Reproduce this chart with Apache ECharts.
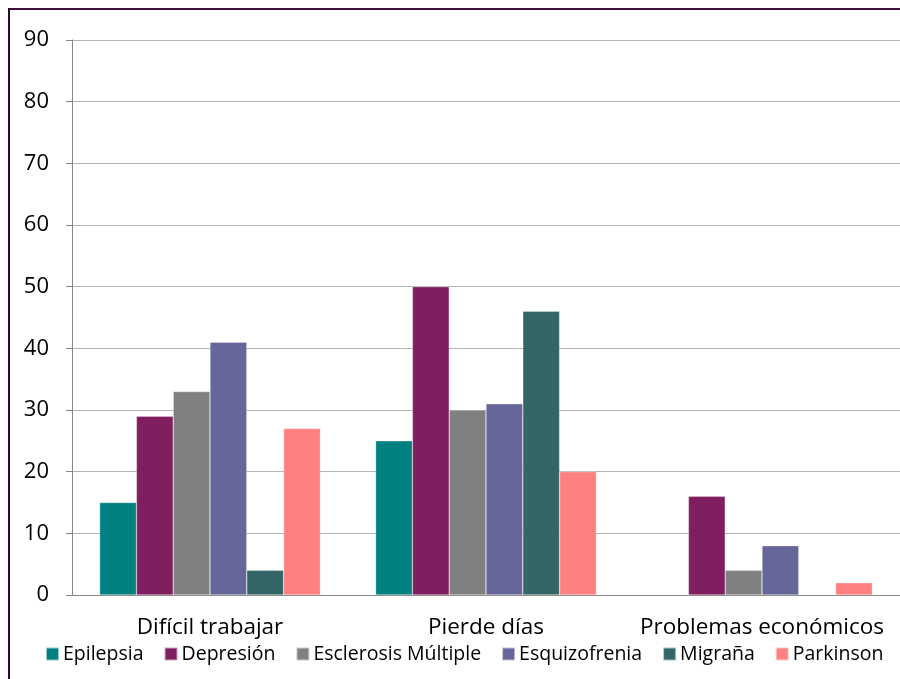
<!DOCTYPE html>
<html>
<head>
<meta charset="utf-8">
<script src="https://cdn.jsdelivr.net/npm/echarts@6/dist/echarts.min.js"></script>
<style>
html,body{margin:0;padding:0;background:#fff;}
#chart{width:900px;height:679px;}
</style>
</head>
<body>
<div id="chart"></div>
<script>
// Categories and values per condition
const categories = ['Difícil trabajar', 'Pierde días', 'Problemas económicos'];
const seriesNames = ['Epilepsia', 'Depresión', 'Esclerosis Múltiple', 'Esquizofrenia', 'Migraña', 'Parkinson'];
const epilepsia = [15, 25, null];
const depresion = [29, 50, 16];
const esclerosis = [33, 30, 4];
const esquizofrenia = [41, 31, 8];
const migrana = [4, 46, null];
const parkinson = [27, 20, 2];
const yTicks = [0, 10, 20, 30, 40, 50, 60, 70, 80, 90];

const values = [epilepsia, depresion, esclerosis, esquizofrenia, migrana, parkinson];
const colors = ['#008080', '#7F1F5F', '#808080', '#666699', '#336666', '#FF8080'];

const chart = echarts.init(document.getElementById('chart'));
chart.setOption({
  animation: false,
  color: colors,
  grid: { left: 72, right: -2, top: 40, bottom: 84, containLabel: false },
  legend: {
    left: 40, top: 639,
    itemWidth: 13, itemHeight: 13, itemGap: 20,
    icon: 'rect',
    textStyle: { fontFamily: 'Open Sans', fontSize: 19.5, color: '#000', padding: [0, 0, 0, -1] },
    data: seriesNames
  },
  xAxis: {
    type: 'category',
    data: categories,
    axisLine: { lineStyle: { color: '#868686', width: 1 } },
    axisTick: { lineStyle: { color: '#868686' }, length: 6 },
    axisLabel: { fontFamily: 'Open Sans', fontSize: 22.5, color: '#000', margin: 21, interval: 0 }
  },
  yAxis: {
    type: 'value',
    min: 0, max: 90, interval: 10,
    axisLine: { show: true, lineStyle: { color: '#868686' } },
    axisTick: { show: true, length: 6, lineStyle: { color: '#868686' } },
    axisLabel: {
      fontFamily: 'Open Sans', fontSize: 22, color: '#000', margin: 23,
      formatter: v => yTicks.includes(v) ? String(v) : ''
    },
    splitLine: { lineStyle: { color: '#b3b3b3', width: 1 } }
  },
  series: seriesNames.map((name, i) => ({
    name,
    type: 'bar',
    data: values[i],
    barGap: '0%',
    barCategoryGap: '20%',
    itemStyle: { borderColor: 'rgba(255,255,255,0.6)', borderWidth: 0.5 }
  })),
  graphic: [
    { type: 'line', shape: { x1: 8, y1: 9, x2: 900, y2: 9 }, style: { stroke: '#3f0f3f', lineWidth: 2 } },
    { type: 'line', shape: { x1: 9, y1: 8, x2: 9, y2: 679 }, style: { stroke: '#2a0a2a', lineWidth: 2 } }
  ]
});
</script>
</body>
</html>
